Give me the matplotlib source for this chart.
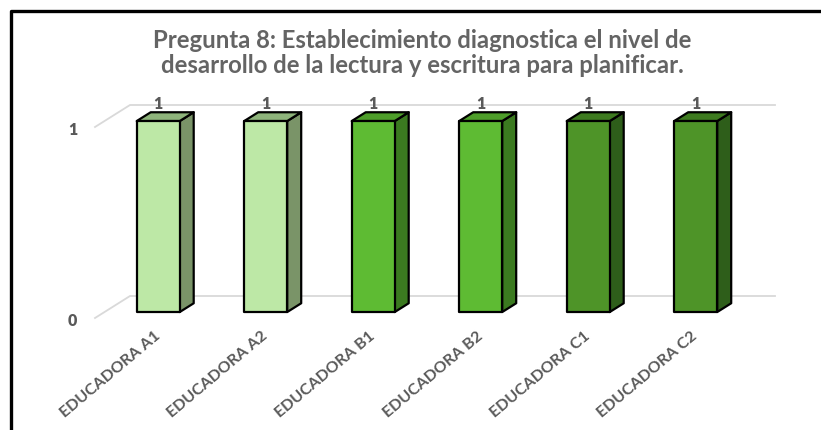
import matplotlib
matplotlib.use("Agg")
import matplotlib.pyplot as plt
from matplotlib.patches import Polygon
from matplotlib.lines import Line2D
import matplotlib.transforms as mtransforms

# -------- DATA --------
categories = ["EDUCADORA A1", "EDUCADORA A2", "EDUCADORA B1",
              "EDUCADORA B2", "EDUCADORA C1", "EDUCADORA C2"]
values = [1, 1, 1, 1, 1, 1]
front_colors = ["#BDE8A6", "#BDE8A6", "#5EBB33", "#5EBB33", "#4E9428", "#4E9428"]
side_colors = ["#7A9468", "#7A9468", "#3B7A20", "#3B7A20", "#2E5E1A", "#2E5E1A"]
top_colors = ["#8EB47B", "#8EB47B", "#4E9E2A", "#4E9E2A", "#3E7B20", "#3E7B20"]
title = ("Pregunta 8: Establecimiento diagnostica el nivel de\n"
         "desarrollo de la lectura y escritura para planificar.")

TXT = "#595959"
FONT = "Lato"

# -------- FIGURE --------
W, H = 821, 430
fig = plt.figure(figsize=(W / 100, H / 100), dpi=100)

# front plane of the plot area (pixels)
left_px, right_px, y0_px, y1_px = 95, 740, 318, 127
ax = fig.add_axes([left_px / W, (H - y0_px) / H,
                   (right_px - left_px) / W, (y0_px - y1_px) / H])
n = len(categories)
ax.set_xlim(-0.5, n - 0.5)
ax.set_ylim(0, 1)
ax.axis("off")

# depth vector (full depth) in data units
px_x = (right_px - left_px) / n
px_y = (y0_px - y1_px)
DX, DY = 35 / px_x, 22 / px_y
d1, d2 = 0.27, 0.67      # bar depth range
bw = 43 / px_x           # bar width

# 3D-ish gridlines
for v in [0, 1]:
    ax.add_line(Line2D([-0.5, -0.5 + DX, n - 0.5 + DX], [v, v + DY, v + DY],
                       color="#D9D9D9", lw=1.3, clip_on=False, zorder=1))

# tick labels
for v in [0, 1]:
    ax.text(-0.5, v, str(v), transform=ax.transData + mtransforms.ScaledTranslation(
        -18 / 100, -3 / 100, fig.dpi_scale_trans),
        ha="right", va="center", fontsize=11.5, fontweight="heavy",
        color=TXT, family=FONT)

# bars
for i, v in enumerate(values):
    xl = i - bw / 2 + d1 * DX
    xr = xl + bw
    yb = d1 * DY
    yt = v + d1 * DY
    ddx, ddy = (d2 - d1) * DX, (d2 - d1) * DY
    kw = dict(closed=True, ec="black", lw=1.6, joinstyle="round",
              clip_on=False, zorder=3)
    ax.add_patch(Polygon([(xr, yb), (xr + ddx, yb + ddy), (xr + ddx, yt + ddy), (xr, yt)],
                         fc=side_colors[i], **kw))
    ax.add_patch(Polygon([(xl, yt), (xr, yt), (xr + ddx, yt + ddy), (xl + ddx, yt + ddy)],
                         fc=top_colors[i], **kw))
    ax.add_patch(Polygon([(xl, yb), (xr, yb), (xr, yt), (xl, yt)],
                         fc=front_colors[i], **kw))
    # value label
    ax.text((xl + xr) / 2, v + d2 * DY, str(v),
            ha="center", va="bottom", fontsize=11.5, fontweight="heavy",
            color=TXT, family=FONT, zorder=4)

# category labels
for i, c in enumerate(categories):
    ax.text(i, 0, c, transform=ax.transData + mtransforms.ScaledTranslation(
        5 / 100, -11 / 100, fig.dpi_scale_trans),
        rotation=40, rotation_mode="anchor", ha="right", va="top",
        fontsize=11.5, fontweight="bold", color=TXT, family=FONT)

# title
fig.text(422 / W, 1 - 53 / H, title, ha="center", va="center",
         fontsize=17.2, fontweight="bold", color="#646464", family=FONT,
         linespacing=1.15)

# frame lines (left and top)
fig.add_artist(Line2D([11 / W, 11 / W, 1], [0, 1 - 11 / H, 1 - 11 / H],
                      transform=fig.transFigure, color="black", lw=2.4))

fig.savefig("out.png", dpi=100)
